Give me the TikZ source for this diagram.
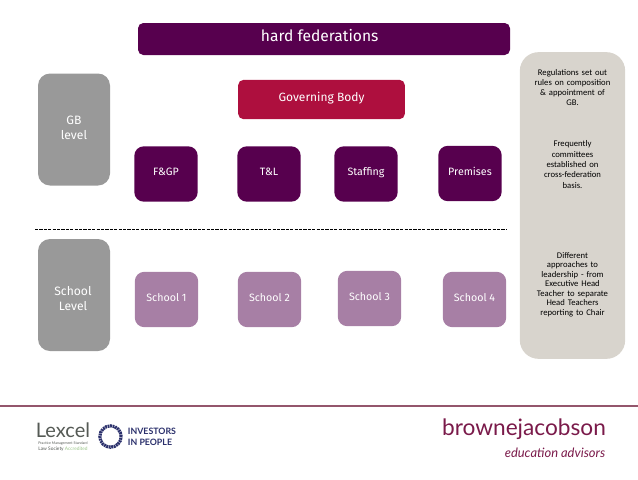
\documentclass[tikz,border=0pt]{standalone}
\usepackage{fontspec}
\setmainfont{Fira Sans}
\newfontfamily\panelfont{Carlito}
\newfontfamily\logofont{Lato}
\definecolor{plum}{HTML}{57004E}
\definecolor{crimson}{HTML}{AE0F3E}
\definecolor{mauve}{HTML}{A77FA5}
\definecolor{levelgrey}{HTML}{999999}
\definecolor{panelgrey}{HTML}{D8D4CD}
\definecolor{footline}{HTML}{94566C}
\definecolor{ipnavy}{HTML}{2A2F6B}
\definecolor{lexgrey}{HTML}{555A55}
\definecolor{lexgreen}{HTML}{9BC58A}
\definecolor{brownered}{HTML}{7A1A4A}
\tikzset{
    box/.style={rounded corners=7pt, minimum width=47.5pt, minimum height=41.5pt, inner sep=0pt, text=white, font=\fontsize{8}{9.5}\selectfont, align=center, text height=6pt, text depth=3.6pt},
    committee/.style={box, fill=plum},
    school/.style={box, fill=mauve},
    level/.style={fill=levelgrey, rounded corners=9pt, minimum width=54pt, minimum height=84pt, inner sep=0pt},
    levellabel/.style={text=white, inner sep=0pt, align=center, font=\fontsize{9.1}{11.3}\selectfont},
    note/.style={font=\panelfont\fontsize{6.5}{7.7}\selectfont, text=black, align=center, text width=70pt}
}
\begin{document}
\begin{tikzpicture}[x=0.75pt, y=-0.75pt]
    \useasboundingbox (0,0) rectangle (638,479);

    % Title and governing body
    \node[box, fill=plum, rounded corners=4pt, minimum width=279pt, minimum height=24pt, font=\fontsize{11.7}{13}\selectfont, text height=9pt, text depth=5pt] (title) at (324,39) {hard federations\hspace{6.5pt}};
    \node[box, fill=crimson, rounded corners=4pt, minimum width=125pt, minimum height=29.5pt, font=\fontsize{9}{10}\selectfont, text height=7pt, text depth=4pt] (governing) at (321.5,99.5) {Governing Body};

    % Level boxes
    \node[level] (gblevel) at (74,129.5) {};
    \node[levellabel] (gblabel) at (74,127.5) {GB\\level};
    \node[level] (schoollevel) at (74,295) {};
    \node[levellabel] (schoollabel) at (73,298.5) {School\\Level};

    % Committees
    \node[committee] (fgp) at (166,174) {F\&GP};
    \node[committee] (tl) at (269,174) {T\&L};
    \node[committee] (staffing) at (366,174) {Staffing};
    \node[committee] (premises) at (470,173.5) {Premises};

    % Divider
    \coordinate (divleft) at (35,229);
    \coordinate (divright) at (507,229);
    \draw[black, line width=0.6pt, dash pattern=on 2.4pt off 0.9pt] (divleft) -- (divright);

    % Schools
    \node[school] (schoola) at (166.5,299.5) {School 1};
    \node[school] (schoolb) at (269.5,299.5) {School 2};
    \node[school] (schoolc) at (369.5,298.5) {School 3};
    \node[school] (schoold) at (474.5,299.5) {School 4};

    % Notes panel
    \node[fill=panelgrey, rounded corners=14pt, minimum width=79pt, minimum height=230pt, inner sep=0pt] (panel) at (572.5,205.5) {};
    \node[note] (regs) at (572.5,87.5) {Regulations set out\\rules on composition\\\&\ appointment of\\GB.};
    \node[note] (freq) at (572.5,164.5) {Frequently\\committees\\established on\\cross-federation\\basis.};
    \node[note, font=\panelfont\fontsize{6.5}{7.1}\selectfont] (lead) at (572.5,284.5) {Different\\approaches to\\leadership - from\\Executive Head\\Teacher to separate\\Head Teachers\\reporting to Chair};

    % Footer
    \coordinate (footleft) at (0,406);
    \coordinate (footright) at (638,406);
    \draw[footline, line width=1pt] (footleft) -- (footright);

    % Logos
    \node[font=\logofont\fontsize{15}{16}\selectfont, text=lexgrey, inner sep=0pt] (lexcel) at (63,430) {Lexcel};
    \node[font=\logofont\fontsize{2.7}{3}\selectfont, text=lexgrey, inner sep=0pt] (lexstd) at (63,443.5) {Practice Management Standard};
    \node[font=\logofont\fontsize{3.6}{4}\selectfont, text=lexgrey, inner sep=0pt] (lexlaw) at (63,449) {Law Society \textcolor{lexgreen}{Accredited}};
    \node[circle, draw=ipnavy, line width=2.4pt, dash pattern=on 1.4pt off 0.5pt, minimum size=16pt, inner sep=0pt] (wreath) at (110.5,436.5) {};
    \node[font=\logofont\bfseries\fontsize{6.6}{8.2}\selectfont, text=ipnavy, align=left, inner sep=0pt] (iip) at (152,437) {INVESTORS\\IN PEOPLE};
    \node[font=\logofont\fontsize{17}{18}\selectfont, text=brownered, inner sep=0pt] (browne) at (524,429) {brownejacobson};
    \node[font=\logofont\itshape\fontsize{9.7}{11}\selectfont, text=brownered, inner sep=0pt] (advisors) at (555,453) {education advisors};
\end{tikzpicture}
\end{document}
